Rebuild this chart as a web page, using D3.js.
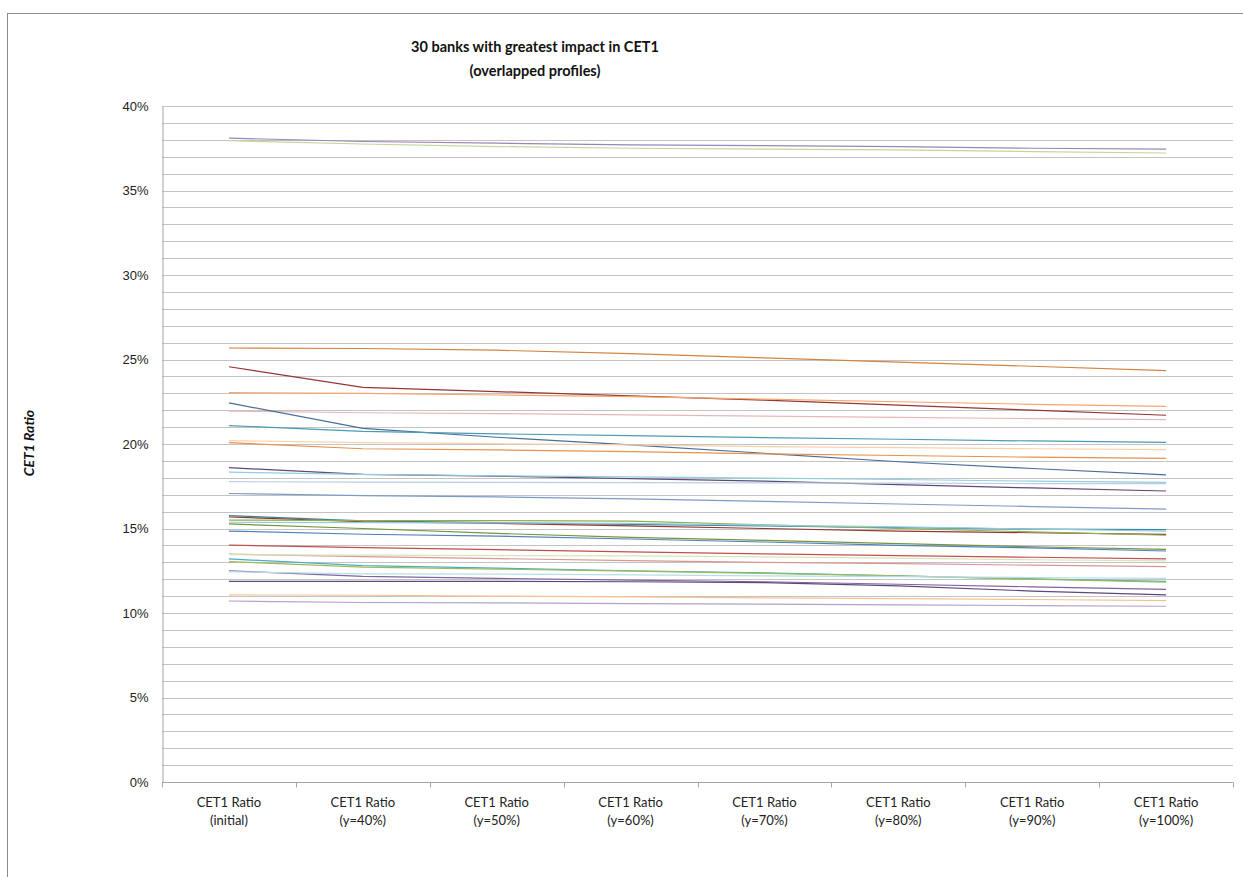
<!DOCTYPE html>
<html>
<head>
<meta charset="utf-8">
<script src="https://cdn.jsdelivr.net/npm/d3@7"></script>
<style>
  body { margin: 0; background: #fff; }
  svg { display: block; font-family: Lato, 'Open Sans', sans-serif; }
  .grid line { stroke: #c3c3c3; stroke-width: 1; }
  .line { fill: none; stroke-width: 1.2; }
</style>
</head>
<body>
<svg id="chart" width="1243" height="877"></svg>
<script>
const categories = ['initial', 'y=40%', 'y=50%', 'y=60%', 'y=70%', 'y=80%', 'y=90%', 'y=100%'];
const yTicks = [0, 5, 10, 15, 20, 25, 30, 35, 40];

// CET1 ratio (%) per bank, one value per scenario
const bank01 = [38.1, 37.9, 37.8, 37.7, 37.65, 37.6, 37.5, 37.45];
const bank02 = [37.95, 37.75, 37.6, 37.5, 37.45, 37.4, 37.3, 37.22];
const bank03 = [25.68, 25.65, 25.55, 25.35, 25.1, 24.85, 24.6, 24.34];
const bank04 = [24.57, 23.35, 23.1, 22.85, 22.6, 22.3, 22.0, 21.7];
const bank05 = [23.04, 23.0, 22.9, 22.8, 22.65, 22.5, 22.35, 22.23];
const bank06 = [21.95, 21.85, 21.8, 21.72, 21.65, 21.57, 21.5, 21.44];
const bank07 = [22.43, 20.93, 20.4, 19.95, 19.45, 18.95, 18.55, 18.17];
const bank08 = [21.09, 20.75, 20.6, 20.5, 20.38, 20.28, 20.18, 20.1];
const bank09 = [20.2, 20.08, 20.02, 19.95, 19.85, 19.78, 19.72, 19.67];
const bank10 = [20.08, 19.72, 19.65, 19.55, 19.42, 19.32, 19.22, 19.15];
const bank11 = [18.6, 18.2, 18.1, 17.95, 17.8, 17.6, 17.4, 17.22];
const bank12 = [18.33, 18.2, 18.12, 18.05, 17.98, 17.9, 17.8, 17.73];
const bank13 = [17.77, 17.75, 17.73, 17.72, 17.7, 17.68, 17.66, 17.65];
const bank14 = [17.07, 16.95, 16.87, 16.75, 16.6, 16.45, 16.3, 16.15];
const bank15 = [15.76, 15.45, 15.35, 15.25, 15.15, 15.05, 14.97, 14.93];
const bank16 = [15.68, 15.4, 15.3, 15.15, 15.0, 14.85, 14.75, 14.65];
const bank17 = [15.5, 15.47, 15.47, 15.44, 15.22, 15.0, 14.8, 14.6];
const bank18 = [15.37, 15.35, 15.33, 15.3, 15.2, 15.1, 14.97, 14.85];
const bank19 = [15.27, 15.0, 14.71, 14.48, 14.3, 14.1, 13.92, 13.77];
const bank20 = [14.85, 14.66, 14.55, 14.38, 14.2, 14.0, 13.85, 13.67];
const bank21 = [14.02, 13.87, 13.75, 13.62, 13.5, 13.4, 13.3, 13.2];
const bank22 = [13.49, 13.33, 13.22, 13.1, 13.0, 12.92, 12.83, 12.74];
const bank23 = [13.45, 13.42, 13.4, 13.38, 13.32, 13.25, 13.15, 13.08];
const bank24 = [13.2, 12.8, 12.65, 12.5, 12.37, 12.2, 12.02, 11.87];
const bank25 = [13.04, 12.72, 12.6, 12.48, 12.35, 12.2, 12.0, 11.83];
const bank26 = [12.5, 12.17, 12.05, 11.95, 11.85, 11.7, 11.55, 11.4];
const bank27 = [11.87, 11.87, 11.87, 11.85, 11.8, 11.6, 11.3, 11.07];
const bank28 = [12.44, 12.32, 12.3, 12.26, 12.2, 12.15, 12.1, 12.05];
const bank29 = [11.07, 11.05, 11.0, 10.95, 10.9, 10.85, 10.8, 10.73];
const bank30 = [10.71, 10.62, 10.6, 10.56, 10.52, 10.48, 10.44, 10.4];

const banks = [bank01, bank02, bank03, bank04, bank05, bank06, bank07, bank08, bank09, bank10,
  bank11, bank12, bank13, bank14, bank15, bank16, bank17, bank18, bank19, bank20,
  bank21, bank22, bank23, bank24, bank25, bank26, bank27, bank28, bank29, bank30];

const colors = ['#9a86b8', '#c3d69b', '#d0843f', '#943634', '#f5a56a', '#e6b9b8', '#4a6e9a', '#4a9bb5', '#fcd0aa', '#e8924e',
  '#604a7b', '#93cddd', '#b9cde5', '#7c9cc8', '#31859c', '#953735', '#8db04a', '#93cddd', '#77933c', '#4f81bd',
  '#c0504d', '#d99694', '#d7e4bd', '#4bacc6', '#9bbb59', '#8064a2', '#5f497a', '#b7dee8', '#fac090', '#b3a2c7'];

function drawChart() {
  const svg = d3.select('#chart');
  const left = 162, right = 1233, top = 106, bottom = 782;

  // outer chart border
  svg.append('rect')
    .attr('x', 7.5).attr('y', 13.5)
    .attr('width', 1250).attr('height', 880)
    .attr('fill', 'none').attr('stroke', '#8c8c8c');

  const x = d3.scalePoint().domain(categories).range([left, right]).padding(0.5);
  const band = d3.scaleBand().domain(categories).range([left, right]);
  const y = d3.scaleLinear().domain([0, 40]).range([bottom, top]);

  // gridlines each 1%
  svg.append('g').attr('class', 'grid')
    .selectAll('line')
    .data(d3.range(1, 41))
    .enter().append('line')
    .attr('x1', left).attr('x2', right)
    .attr('y1', d => Math.round(y(d)) + 0.5)
    .attr('y2', d => Math.round(y(d)) + 0.5);

  // y axis
  const yAxis = svg.append('g')
    .attr('transform', `translate(${left + 0.5},0)`)
    .call(d3.axisLeft(y).tickValues(yTicks).tickSize(0).tickPadding(14).tickFormat(d => d + '%'));
  yAxis.select('.domain').attr('stroke', '#a6a6a6');
  yAxis.selectAll('text').attr('font-size', 13).attr('fill', '#222');

  // x axis with ticks at band edges
  const xAxis = svg.append('g').attr('transform', `translate(0,${bottom + 0.5})`);
  xAxis.append('line').attr('x1', left).attr('x2', right).attr('stroke', '#a6a6a6');
  xAxis.selectAll('.tk')
    .data(categories.concat(['end']))
    .enter().append('line')
    .attr('x1', (d, i) => Math.round(i < categories.length ? band(d) : right) + 0.5)
    .attr('x2', (d, i) => Math.round(i < categories.length ? band(d) : right) + 0.5)
    .attr('y1', 0).attr('y2', 5)
    .attr('stroke', '#a6a6a6');
  const lbl = xAxis.selectAll('text.cat')
    .data(categories)
    .enter().append('text')
    .attr('class', 'cat')
    .attr('text-anchor', 'middle')
    .attr('font-size', 13)
    .attr('fill', '#222')
    .attr('x', d => x(d));
  lbl.append('tspan').attr('x', d => x(d)).attr('y', 24).text('CET1 Ratio');
  lbl.append('tspan').attr('x', d => x(d)).attr('y', 42).text(d => '(' + d + ')');

  // series lines
  const line = d3.line()
    .x((d, i) => x(categories[i]))
    .y(d => y(d));
  svg.append('g')
    .selectAll('path')
    .data(banks)
    .enter().append('path')
    .attr('class', 'line')
    .attr('stroke', (d, i) => colors[i])
    .attr('d', line);

  // title
  const title = svg.append('text')
    .attr('text-anchor', 'middle')
    .attr('font-size', 14.5)
    .attr('font-weight', 'bold')
    .attr('fill', '#111');
  title.append('tspan').attr('x', 535).attr('y', 52).text('30 banks with greatest impact in CET1');
  title.append('tspan').attr('x', 535).attr('y', 76).text('(overlapped profiles)');

  // y axis title
  svg.append('text')
    .attr('transform', 'translate(34,443) rotate(-90)')
    .attr('text-anchor', 'middle')
    .attr('font-size', 14)
    .attr('font-weight', 'bold')
    .attr('font-style', 'italic')
    .attr('fill', '#111')
    .text('CET1 Ratio');
}

drawChart();
</script>
</body>
</html>
